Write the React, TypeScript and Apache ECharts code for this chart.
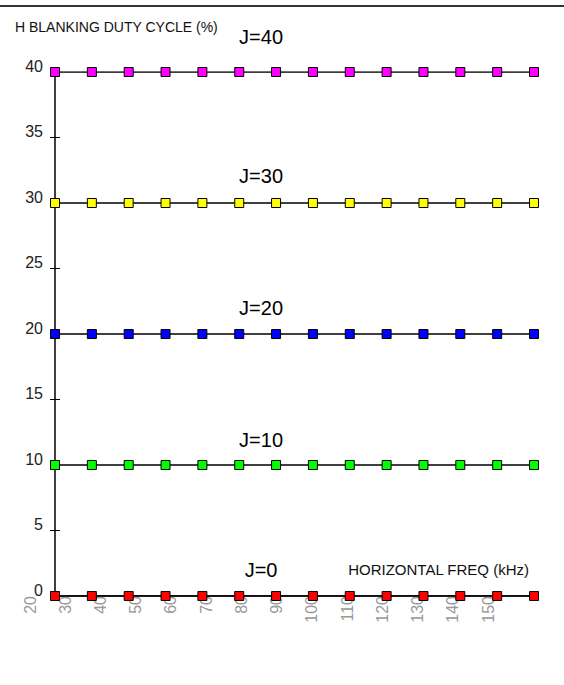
import React, { useEffect, useRef } from "react";
import * as echarts from "echarts";

const pointFreqs = ["20", "30", "40", "50", "60", "70", "80", "90", "100", "110", "120", "130", "140", "150"];
const seriesNames = ["J=40", "J=30", "J=20", "J=10", "J=0"];
const j40 = [40, 40, 40, 40, 40, 40, 40, 40, 40, 40, 40, 40, 40, 40];
const j30 = [30, 30, 30, 30, 30, 30, 30, 30, 30, 30, 30, 30, 30, 30];
const j20 = [20, 20, 20, 20, 20, 20, 20, 20, 20, 20, 20, 20, 20, 20];
const j10 = [10, 10, 10, 10, 10, 10, 10, 10, 10, 10, 10, 10, 10, 10];
const j0 = [0, 0, 0, 0, 0, 0, 0, 0, 0, 0, 0, 0, 0, 0];
const seriesColors = ["#ff00ff", "#ffff00", "#0000ff", "#00ff00", "#ff0000"];
const labelOffsets = [-35, -27, -26, -25, -26];
const xTickMin = 20;
const xTickMax = 150;
const xTickStep = 10;

const FONT = "'Liberation Sans', Arial, sans-serif";

export default function App() {
  const ref = useRef<HTMLDivElement>(null);
  useEffect(() => {
    document.body.style.margin = "0";
    const chart = echarts.init(ref.current!, null, { renderer: "svg" });
    const allData = [j40, j30, j20, j10, j0];
    const series = allData.map((d, i) => ({
      name: seriesNames[i],
      type: "line",
      xAxisIndex: 0,
      yAxisIndex: 0,
      data: d.map((v, k) =>
        k === 6
          ? {
              value: v,
              label: {
                show: true,
                position: "inside",
                formatter: seriesNames[i],
                offset: [-15, labelOffsets[i]],
                fontSize: 20,
                color: "#000",
                fontFamily: FONT,
              },
            }
          : v
      ),
      symbol: "rect",
      symbolSize: 9,
      itemStyle: { color: seriesColors[i], borderColor: "#000", borderWidth: 1 },
      lineStyle: { color: "#000", width: 1.5 },
      z: 3,
    }));
    chart.setOption({
      animation: false,
      backgroundColor: "#fff",
      title: {
        text: "H BLANKING DUTY CYCLE (%)",
        left: 10,
        top: 15,
        textStyle: { fontSize: 14, fontWeight: "normal", color: "#111", fontFamily: FONT },
      },
      graphic: [
        {
          type: "line",
          shape: { x1: 0, y1: 6, x2: 564, y2: 6 },
          style: { stroke: "#333", lineWidth: 2 },
        },
      ],
      grid: [
        { left: 55, right: 30, top: 72, bottom: 89 },
        { left: 30, right: 76, top: 72, bottom: 89 },
      ],
      xAxis: [
        {
          type: "category",
          gridIndex: 0,
          position: "bottom",
          data: pointFreqs,
          boundaryGap: false,
          name: "HORIZONTAL FREQ (kHz)",
          nameLocation: "end",
          nameGap: -5,
          nameTextStyle: {
            align: "right",
            verticalAlign: "bottom",
            padding: [0, 0, 19, 0],
            fontSize: 15,
            color: "#111",
            fontFamily: FONT,
          },
          axisLine: { lineStyle: { color: "#000", width: 1.5 } },
          axisTick: { show: true, length: 5, alignWithLabel: true, lineStyle: { color: "#000" } },
          axisLabel: { show: false },
          splitLine: { show: false },
        },
        {
          type: "category",
          gridIndex: 0,
          position: "bottom",
          data: pointFreqs,
          boundaryGap: false,
          axisLine: { show: false, onZero: false },
          axisTick: { show: true, inside: true, length: 5, lineStyle: { color: "#000" } },
          axisLabel: { show: false },
          splitLine: { show: false },
        },
        {
          type: "value",
          gridIndex: 1,
          position: "bottom",
          min: xTickMin,
          max: xTickMax,
          interval: xTickStep,
          axisLine: { show: false },
          axisTick: { show: false },
          splitLine: { show: false },
          axisLabel: {
            rotate: 90,
            margin: 0,
            color: "#999",
            fontSize: 16,
            fontFamily: FONT,
          },
        },
      ],
      yAxis: [
        {
          type: "value",
          gridIndex: 0,
          position: "left",
          min: 0,
          max: 40,
          interval: 5,
          axisLine: { show: true, lineStyle: { color: "#000", width: 1.5 } },
          axisTick: { show: true, length: 5, lineStyle: { color: "#000" } },
          axisLabel: {
            margin: 12,
            fontSize: 16,
            color: "#222",
            fontFamily: FONT,
            verticalAlign: "bottom",
            lineHeight: 12,
          },
          splitLine: { show: false },
        },
        {
          type: "value",
          gridIndex: 0,
          position: "left",
          min: 0,
          max: 40,
          interval: 5,
          axisLine: { show: false, onZero: false },
          axisTick: { show: true, inside: true, length: 5, lineStyle: { color: "#000" } },
          axisLabel: { show: false },
          splitLine: { show: false },
        },
        {
          type: "value",
          gridIndex: 1,
          show: false,
          min: 0,
          max: 40,
        },
      ],
      series,
    });
    return () => chart.dispose();
  }, []);
  return <div ref={ref} style={{ position: "fixed", left: 0, top: 0, width: 564, height: 685 }} />;
}
